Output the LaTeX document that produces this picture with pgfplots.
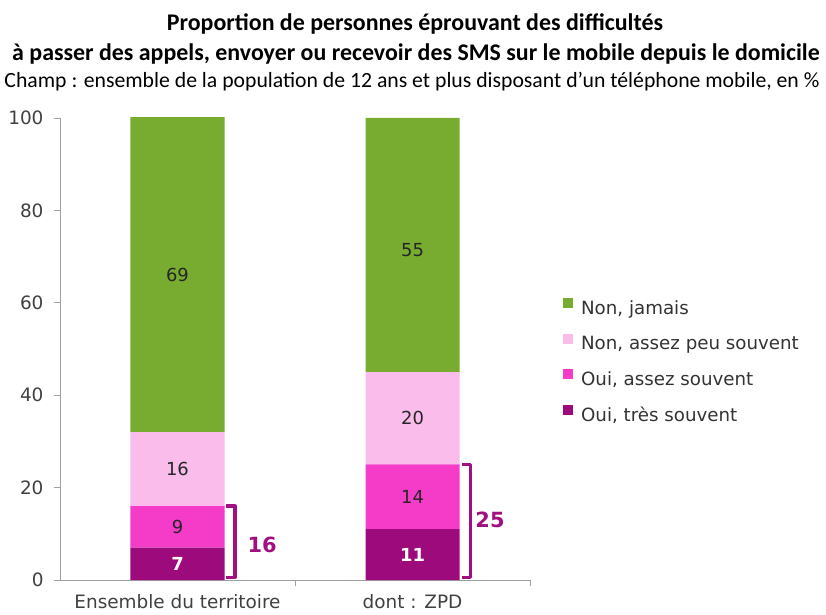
\documentclass[border=0pt]{standalone}
\usepackage{pgfplots}
\pgfplotsset{compat=1.18}
\usepackage{fontspec}
\setmainfont{Carlito}
\newfontfamily\dejavu{DejaVu Sans}
\definecolor{cgreen}{RGB}{120,172,48}
\definecolor{clight}{RGB}{249,188,235}
\definecolor{cmagenta}{RGB}{244,60,201}
\definecolor{cpurple}{RGB}{156,10,123}
\definecolor{cbrack}{RGB}{160,16,128}
\definecolor{caxis}{RGB}{160,160,160}
\tikzset{vlab/.style={font=\dejavu\fontsize{18}{21}\selectfont, text=black!85},
  wlab/.style={font=\dejavu\bfseries\fontsize{18}{21}\selectfont, text=white},
  blab/.style={font=\dejavu\bfseries\fontsize{21}{24}\selectfont, text=cbrack}}
\begin{document}
\begin{tikzpicture}
\useasboundingbox (-60bp,-35bp) rectangle (766bp,580bp);
\node[font=\bfseries\fontsize{24}{28}\selectfont] at (355bp,556bp) {Proportion de personnes éprouvant des difficultés};
\node[font=\bfseries\fontsize{24}{28}\selectfont] at (356bp,526bp) {à passer des appels, envoyer ou recevoir des SMS sur le mobile depuis le domicile};
\node[font=\fontsize{21.8}{25}\selectfont] at (352bp,498bp) {Champ : ensemble de la population de 12 ans et plus disposant d’un téléphone mobile, en \%};
\begin{axis}[
  at={(0,0)}, anchor=south west,
  scale only axis, width=470bp, height=462bp,
  xmin=-0.5, xmax=1.5, ymin=0, ymax=100,
  ybar stacked, bar width=94bp,
  axis x line*=bottom, axis y line*=left,
  axis line style={caxis, line width=0.8pt, -},
  tick style={caxis, line width=0.8pt},
  tick align=outside, major tick length=6bp,
  ytick={0,20,40,60,80,100},
  xtick={0.5,1.5}, xticklabels={,,},
  extra x ticks={0,1},
  extra x tick labels={Ensemble du territoire, dont : ZPD},
  extra x tick style={tick style={draw=none}},
  tick label style={font=\dejavu\fontsize{18.5}{21}\selectfont, text=black!75},
  yticklabel style={xshift=-7bp},
  xticklabel style={yshift=-5bp},
  /pgf/number format/assume math mode=true,
  reverse legend,
  legend style={draw=none, fill=none, at={(1.07,0.61)}, anchor=north west,
    font=\dejavu\fontsize{18.3}{21}\selectfont, text=black!80, row sep=16bp,
    column sep=6bp, inner sep=0pt},
  legend cell align=left,
  legend image code/.code={\fill[#1] (0bp,0bp) rectangle (10bp,10bp);},
]
\addplot[fill=cpurple, draw=none] coordinates {(0,7) (1,11)};
\addplot[fill=cmagenta, draw=none] coordinates {(0,9) (1,14)};
\addplot[fill=clight, draw=none] coordinates {(0,16) (1,20)};
\addplot[fill=cgreen, draw=none] coordinates {(0,69) (1,55)};
\legend{{Oui, très souvent}, {Oui, assez souvent}, {Non, assez peu souvent}, {Non, jamais}}
\coordinate (a1) at (axis cs:0,3.5);
\coordinate (a2) at (axis cs:0,11.5);
\coordinate (a3) at (axis cs:0,24);
\coordinate (a4) at (axis cs:0,66);
\coordinate (b1) at (axis cs:1,5.5);
\coordinate (b2) at (axis cs:1,18);
\coordinate (b3) at (axis cs:1,35);
\coordinate (b4) at (axis cs:1,71.5);
\draw[cbrack, line width=3.2pt, line join=round]
  (axis cs:0.208,16) -- (axis cs:0.245,16) -- (axis cs:0.245,0.6) -- (axis cs:0.208,0.6);
\draw[cbrack, line width=3.2pt, line join=round]
  (axis cs:1.21,25) -- (axis cs:1.247,25) -- (axis cs:1.247,0.6) -- (axis cs:1.21,0.6);
\node[blab] at (axis cs:0.36,7.6) {16};
\node[blab] at (axis cs:1.33,13) {25};
\end{axis}
\node[wlab] at (a1) {7};
\node[vlab] at (a2) {9};
\node[vlab] at (a3) {16};
\node[vlab] at (a4) {69};
\node[wlab] at (b1) {11};
\node[vlab] at (b2) {14};
\node[vlab] at (b3) {20};
\node[vlab] at (b4) {55};
\end{tikzpicture}
\end{document}
